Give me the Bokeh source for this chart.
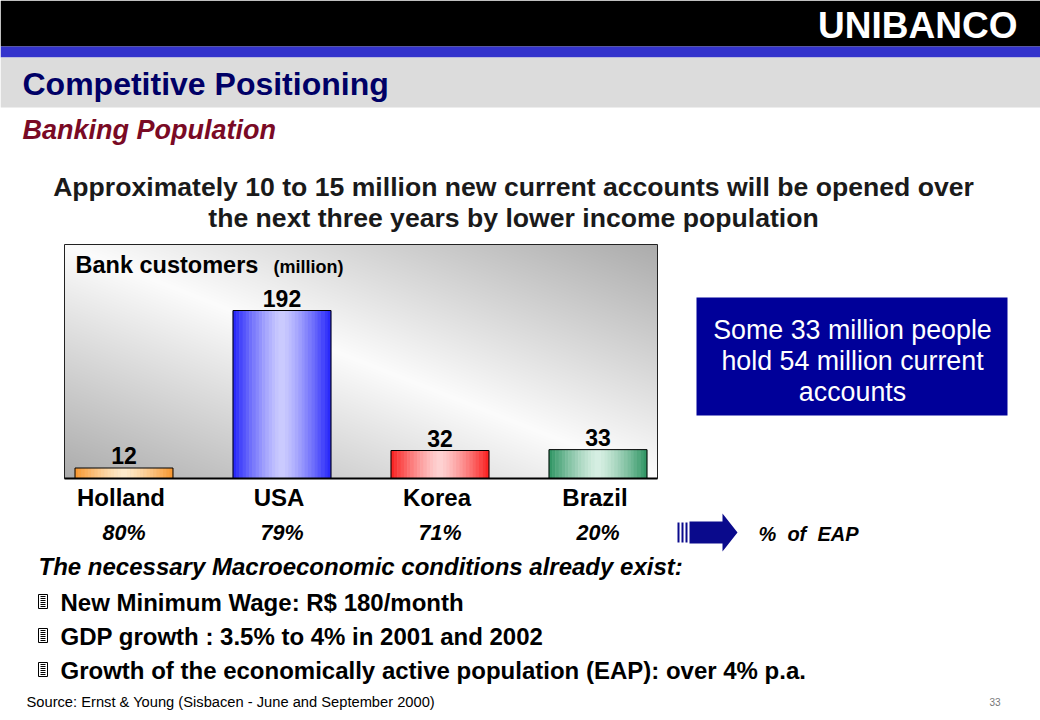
import numpy as np
from bokeh.plotting import figure
from bokeh.models import Range1d, ColumnDataSource
from bokeh.core.properties import value
from bokeh.embed import file_html
from bokeh.resources import INLINE

# ---------------- data ----------------
countries = ["Holland", "USA", "Korea", "Brazil"]
customers = [12, 192, 32, 33]            # bank customers, million
eap_share = ["80%", "79%", "71%", "20%"]  # % of economically active population
bullets = [
    "New Minimum Wage: R$ 180/month",
    "GDP growth : 3.5% to 4% in 2001 and 2002",
    "Growth of the economically active population (EAP): over 4% p.a.",
]

# ---------------- styles ----------------
bar_edge = [(248, 150, 45), (35, 35, 250), (250, 30, 30), (45, 148, 98)]
bar_center = [(255, 236, 205), (205, 205, 255), (255, 212, 212), (216, 240, 228)]
FONT = "Liberation Sans"

W, H = 1040, 720
p = figure(width=W, height=H, x_range=Range1d(0, W), y_range=Range1d(0, H),
           output_backend="svg", toolbar_location=None, min_border=0,
           x_axis_location=None, y_axis_location=None,
           background_fill_color="white", border_fill_color="white")
p.outline_line_color = None
p.grid.visible = False


def Y(py):
    return H - py


def txt(x, y, s, size, style="bold", color="black", align="left", font=FONT, **kw):
    p.text(x=[x], y=[Y(y)], text=[s], text_font=value(font), text_font_size=f"{size}px",
           text_font_style=style, text_color=color, text_align=align,
           text_baseline="middle", **kw)


# ---------------- header ----------------
p.quad(left=[0], right=[W], top=[Y(0)], bottom=[Y(46)], fill_color="black", line_color=None)
p.quad(left=[0], right=[W], top=[Y(46)], bottom=[Y(57)], fill_color="#3333cc", line_color=None)
p.quad(left=[0], right=[W], top=[Y(57)], bottom=[Y(107)], fill_color="#dcdcdc", line_color=None)
txt(1017, 25, "UNIBANCO", 37, color="white", align="right")
txt(22, 83, "Competitive Positioning", 32, color="#000066")
txt(22, 129, "Banking Population", 27, style="bold italic", color="#7a0a25")
txt(513, 186, "Approximately 10 to 15 million new current accounts will be opened over", 26.6, color="#1a1a1a", align="center")
txt(513, 217, "the next three years by lower income population", 26.6, color="#1a1a1a", align="center")

# ---------------- chart panel ----------------
CL, CR, CT, CB = 64, 657, 244, 478
gh, gw = CB - CT, CR - CL
vv, uu = np.mgrid[0:gh, 0:gw]
v = vv / (gh - 1)
u = uu / (gw - 1)
d = np.abs(u + v - 1.0)
g = np.clip(252 - 80 * d ** 1.0, 0, 255).astype(np.uint32)
img = (np.uint32(255) << 24) | (g << 16) | (g << 8) | g
p.image_rgba(image=[img], x=CL, y=Y(CB), dw=gw, dh=gh)
p.quad(left=[CL], right=[CR], top=[Y(CT)], bottom=[Y(CB)], fill_color=None, line_color="#222222", line_width=1)

# chart scales
BASE_PY, TOP_PY = CB, 310            # rows of value 0 and of the largest value
ppu = (BASE_PY - TOP_PY) / max(customers)
FIRST_PX, STEP_PX = 123.5, 158.0
p.extra_x_ranges = {"cat": Range1d(-FIRST_PX / STEP_PX, -FIRST_PX / STEP_PX + W / STEP_PX)}
p.extra_y_ranges = {"val": Range1d(-(H - BASE_PY) / ppu, BASE_PY / ppu)}

idx = list(range(len(countries)))
BW = 0.62
N = 30
sx, st, sc = [], [], []
for i, val in enumerate(customers):
    e, c = np.array(bar_edge[i]), np.array(bar_center[i])
    for k in range(N):
        s = (k + 0.5) / N * 2 - 1
        w = 1 - abs(s) ** 1.3
        col = (e + (c - e) * w).astype(int)
        sx.append(i - BW / 2 + (k + 0.5) * BW / N)
        st.append(val)
        sc.append("#%02x%02x%02x" % tuple(col))
p.vbar(x=sx, top=st, bottom=0, width=BW / N * 1.15, fill_color=sc, line_color=None,
       x_range_name="cat", y_range_name="val")

src = ColumnDataSource(dict(x=idx, top=customers, name=countries, pct=eap_share,
                            lab=[str(c) for c in customers]))
p.vbar(x="x", top="top", bottom=0, width=BW, source=src, fill_color=None,
       line_color="black", line_width=1, x_range_name="cat", y_range_name="val")
p.text(x="x", y="top", text="lab", source=src, y_offset=-4, text_align="center",
       text_baseline="bottom", text_font=value(FONT), text_font_size="23px",
       text_font_style="bold", text_color="black", x_range_name="cat", y_range_name="val")
p.segment(x0=[CL], x1=[CR], y0=[Y(CB)], y1=[Y(CB)], line_color="black", line_width=2)

txt(75, 264, "Bank customers", 23.5)
txt(273, 266, "(million)", 18)

# category labels and shares
p.text(x="x", y=Y(497), text="name", source=src, x_offset=-3, text_align="center",
       text_baseline="middle", text_font=value(FONT), text_font_size="24px",
       text_font_style="bold", text_color="black", x_range_name="cat")
p.text(x="x", y=Y(532), text="pct", source=src, text_align="center",
       text_baseline="middle", text_font=value(FONT), text_font_size="21.5px",
       text_font_style="bold italic", text_color="black", x_range_name="cat")

# arrow
p.quad(left=[677, 681, 685], right=[679, 683, 687], top=[Y(522)] * 3, bottom=[Y(542)] * 3,
       fill_color="#0a0a8c", line_color=None)
p.patch(x=[689, 722, 722, 737, 722, 722, 689],
        y=[Y(521), Y(521), Y(513), Y(532), Y(551), Y(543), Y(543)],
        fill_color="#0a0a8c", line_color=None)
txt(758, 533, "%\u00a0\u00a0of\u00a0\u00a0EAP", 20, style="bold italic")

# blue box
p.quad(left=[696], right=[1007], top=[Y(297)], bottom=[Y(415)], fill_color="#000099", line_color=None)
for yy, line in zip([329, 360, 391], ["Some 33 million people", "hold 54 million current", "accounts"]):
    txt(852, yy, line, 26.8, style="normal", color="white", align="center")

# bottom text
txt(38, 566, "The necessary Macroeconomic conditions already exist:", 24, style="bold italic")
for yy, line in zip([601, 635, 669], bullets):
    p.quad(left=[38], right=[47], top=[Y(yy - 7)], bottom=[Y(yy + 7)], fill_color="white",
           line_color="black", line_width=1)
    ys = [Y(yy - 5 + 2 * j) for j in range(6)]
    p.segment(x0=[40] * 6, x1=[45] * 6, y0=ys, y1=ys, line_color="black", line_width=1)
    txt(60, yy + 1, line, 24)
txt(26, 701, "Source: Ernst & Young (Sisbacen - June and September 2000)", 14.7, style="normal")
txt(1000, 701, "33", 10, style="normal", color="#777777", align="right")

open("out.html", "w").write(file_html(p, INLINE, "Competitive Positioning"))
